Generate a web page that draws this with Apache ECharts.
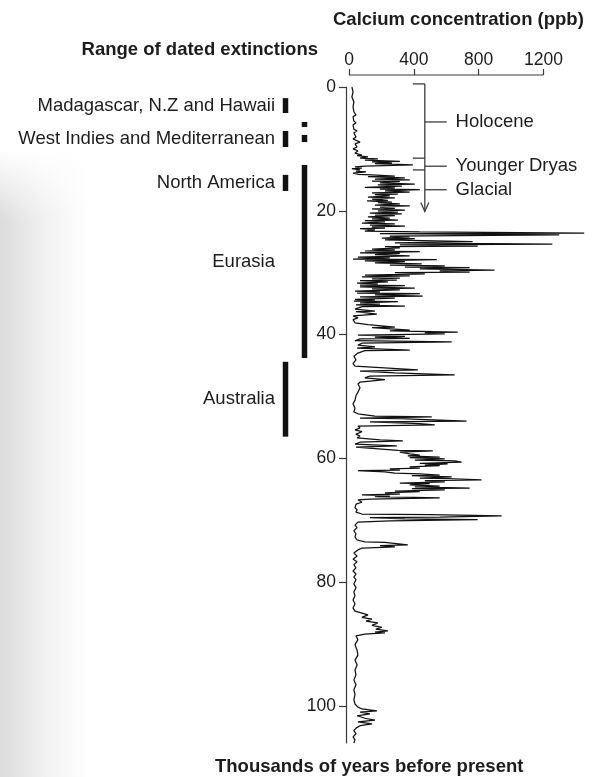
<!DOCTYPE html>
<html>
<head>
<meta charset="utf-8">
<script src="https://cdn.jsdelivr.net/npm/echarts@6/dist/echarts.min.js"></script>
<style>
html,body{margin:0;padding:0;background:#fff;}
#chart{width:592px;height:777px;}
</style>
</head>
<body>
<div id="chart"></div>
<script>
// ---- Data ----
const ages = [0,0.8,1.6,2.4,3.2,4.0,4.5,4.8,5.5,5.8,6.1,6.8,7.1,7.4,8.1,8.4,8.9,9.2,9.7,10.0,10.3,10.7,11.0,11.1,11.3,11.5,11.6,11.8,12.0,12.1,12.3,12.4,12.6,12.8,12.9,13.1,13.2,13.4,13.6,13.7,13.9,14.1,14.2,14.4,14.5,14.7,14.9,15.0,15.2,15.3,15.5,15.7,15.8,16.0,16.2,16.3,16.5,16.6,16.8,17.0,17.1,17.3,17.4,17.6,17.8,17.9,18.1,18.3,18.4,18.6,18.7,18.9,19.1,19.2,19.4,19.6,19.7,19.9,20.0,20.2,20.4,20.5,20.7,20.8,21.0,21.2,21.3,21.5,21.6,21.8,22.0,22.1,22.3,22.5,22.6,22.8,22.9,23.1,23.3,23.4,23.6,23.7,23.9,24.1,24.2,24.4,24.5,24.7,25.0,25.2,25.4,25.5,25.7,25.8,26.0,26.2,26.3,26.5,26.6,26.8,26.9,27.1,27.3,27.5,27.6,27.8,27.9,28.1,28.2,28.4,28.6,28.8,28.9,29.1,29.2,29.4,29.6,29.7,29.9,30.0,30.2,30.4,30.5,30.7,30.9,31.0,31.2,31.3,31.5,31.7,31.8,32.0,32.1,32.3,32.5,32.6,32.8,33.0,33.1,33.3,33.4,33.6,33.8,33.9,34.1,34.3,34.4,34.6,34.7,34.9,35.1,35.2,35.4,35.5,35.9,36.2,36.3,36.7,37.0,37.3,37.6,38.1,38.4,38.8,38.9,39.3,39.4,39.6,39.7,39.9,40.1,40.3,40.4,40.6,40.7,41.0,41.2,41.4,41.7,42.0,42.2,42.5,42.6,43.0,43.5,44.1,44.7,45.1,45.4,45.7,45.9,46.2,46.5,46.7,47.0,47.3,47.7,48.0,48.6,49.3,49.9,50.6,51.2,51.9,52.5,52.8,53.2,53.3,53.5,53.6,54.0,54.1,54.4,54.6,54.8,55.1,55.4,55.7,56.1,56.4,56.7,57.0,57.2,57.4,57.7,58.0,58.2,58.5,58.7,58.8,59.0,59.3,59.5,59.6,59.8,59.9,60.1,60.3,60.4,60.6,60.8,60.9,61.1,61.2,61.4,61.6,61.7,61.9,62.0,62.2,62.4,62.5,62.7,62.8,63.0,63.2,63.3,63.5,63.6,63.8,64.0,64.1,64.3,64.5,64.6,64.8,64.9,65.1,65.3,65.4,65.6,65.8,65.9,66.1,66.2,66.4,66.6,66.7,67.1,67.4,67.7,68.0,68.3,68.7,69.0,69.1,69.3,69.5,69.6,69.8,69.9,70.1,70.3,70.8,71.2,71.7,72.2,72.7,73.2,73.5,73.6,74.0,74.1,74.3,74.5,74.8,75.3,75.8,76.3,76.7,77.2,77.7,78.2,78.7,79.2,79.6,80.3,80.9,81.6,82.2,82.9,83.5,84.2,84.7,85.0,85.3,85.7,86.0,86.3,86.6,87.0,87.3,87.6,87.9,88.1,88.2,88.4,88.7,89.3,90.1,91.0,91.8,92.6,93.4,94.2,95.0,95.8,96.6,97.4,98.2,99.0,99.7,100.2,100.5,100.8,101.0,101.3,101.6,102.0,102.3,102.6,102.9,103.2,103.6,104.0,104.5,105.0,105.5,106.0];
const calcium = [18,25,18,30,25,30,43,25,30,43,25,30,50,30,43,25,68,37,50,25,55,37,80,50,117,68,178,98,314,142,265,160,394,98,37,80,18,68,43,105,25,55,142,283,117,345,160,375,142,314,191,406,178,326,98,283,191,437,222,375,142,302,160,252,117,283,142,240,111,265,178,314,160,375,191,283,142,345,178,302,129,326,160,283,117,252,142,302,98,222,80,283,129,345,142,222,68,160,98,437,1452,191,1298,252,375,203,406,222,763,283,1255,314,794,222,314,142,283,98,437,68,314,160,375,55,252,25,542,98,345,160,449,252,591,345,745,437,898,560,745,283,468,98,375,80,314,142,295,68,240,50,178,68,345,68,406,142,314,37,191,50,437,160,455,68,283,37,160,30,302,68,191,43,345,80,37,160,43,172,25,55,25,37,117,283,142,375,252,671,468,591,55,345,160,375,68,37,634,80,55,160,50,375,98,55,30,43,25,37,25,425,68,283,652,129,98,222,68,55,68,55,43,37,25,37,30,55,160,511,68,314,726,129,437,529,55,68,37,80,43,68,50,191,332,68,37,295,43,55,302,517,314,375,437,363,560,375,591,406,652,695,437,609,468,560,375,437,252,314,55,222,283,437,560,388,634,437,609,818,468,591,314,498,375,560,406,745,388,591,283,437,222,314,80,252,160,560,129,55,80,43,55,37,50,43,80,498,942,560,129,345,794,252,55,37,50,30,43,37,50,98,222,363,191,283,80,55,30,50,25,50,30,43,25,43,30,43,30,43,30,37,25,37,25,37,80,117,80,142,105,178,142,203,166,240,160,222,98,43,55,37,50,55,37,50,37,43,30,43,30,37,30,37,55,80,172,68,129,50,98,160,55,142,68,43,30,43,25,37,30];

const calciumTicks = [0, 400, 800, 1200];
const ageTicks = [0, 20, 40, 60, 80, 100];

// extinction ranges (thousands of years before present)
const extinctionRegions = ["Madagascar, N.Z and Hawaii", "West Indies and Mediterranean", "North America", "Eurasia", "Australia", "", ""];
const extinctionStart = [1.8, 7.1, 14.2, 12.6, 44.4, 5.65, 7.75];
const extinctionEnd   = [4.2, 9.7, 16.8, 43.8, 56.5, 6.45, 8.9];
const extinctionColumn = [0, 0, 0, 1, 0, 1, 1];

// climate periods
const periodNames = ["Holocene", "Younger Dryas", "Glacial"];
const periodLabelAges = [5.65, 12.8, 16.6];
const periodBoundaries = [11.5, 13.4];
const bracketTopAge = -0.5;
const arrowEndAge = 20.1;

// ---- Chart ----
const FONT = "Liberation Sans";
const TXT = "#1c1c1c";
const AX = '#3a3a3a';
const chart = echarts.init(document.getElementById('chart'), null, {renderer: 'canvas'});

const lineData = ages.map((a, i) => [calcium[i], a]);
const barData = extinctionStart.map((s, i) => [extinctionColumn[i], s, extinctionEnd[i], i]);

const colX = [285.5, 304.5];
const xMaxData = 1500; // room for peaks beyond the last tick

chart.setOption({
  animation: false,
  backgroundColor: '#ffffff',
  grid: [
    {left: 349, top: 87, width: 195 * xMaxData / 1200, height: 656},
    {left: 0, top: 87, width: 340, height: 656}
  ],
  xAxis: [
    {
      gridIndex: 0, type: 'value', position: 'top', offset: 12,
      min: 0, max: xMaxData, interval: 400,
      axisLine: {show: false, onZero: false},
      axisTick: {show: true, length: 6, customValues: calciumTicks, lineStyle: {color: AX, width: 1.2}},
      axisLabel: {margin: 6, customValues: calciumTicks, formatter: v => String(v), color: TXT, fontFamily: FONT, fontSize: 17.5},
      splitLine: {show: false}
    },
    {gridIndex: 1, type: 'value', min: 0, max: 340, show: false}
  ],
  yAxis: [
    {
      gridIndex: 0, type: 'value', inverse: true, min: 0, max: 106, interval: 20,
      position: 'left', offset: 3,
      axisLine: {show: true, onZero: false, lineStyle: {color: AX, width: 1.2}},
      axisTick: {show: true, length: 7, customValues: ageTicks, lineStyle: {color: AX, width: 1.2}},
      axisLabel: {margin: 10, customValues: ageTicks, color: TXT, fontFamily: FONT, fontSize: 17.5},
      splitLine: {show: false}
    },
    {gridIndex: 1, type: 'value', inverse: true, min: 0, max: 106, show: false}
  ],
  graphic: [
    {type: 'rect', left: 0, top: 150, z: -10, shape: {width: 90, height: 627},
      style: {fill: new echarts.graphic.LinearGradient(0, 0, 1, 0, [{offset: 0, color: '#dcdcdc'}, {offset: 0.5, color: '#f1f1f1'}, {offset: 1, color: '#ffffff'}])}},
    {type: 'rect', left: 0, top: 150, z: -9, shape: {width: 90, height: 70},
      style: {fill: new echarts.graphic.LinearGradient(0, 0, 0, 1, [{offset: 0, color: 'rgba(255,255,255,1)'}, {offset: 1, color: 'rgba(255,255,255,0)'}])}},
    {type: 'text', left: 333, top: 10, style: {text: 'Calcium concentration (ppb)', fill: TXT, font: 'bold 18.5px "Liberation Sans"'}},
    {type: 'text', right: 274, top: 40, style: {text: 'Range of dated extinctions', fill: TXT, font: 'bold 18.5px "Liberation Sans"'}},
    {type: 'text', left: 215, top: 757, style: {text: 'Thousands of years before present', fill: TXT, font: 'bold 18.5px "Liberation Sans"'}}
  ],
  series: [
    {
      type: 'line', xAxisIndex: 0, yAxisIndex: 0,
      data: lineData, showSymbol: false, clip: false,
      lineStyle: {color: '#111', width: 1.25},
      z: 3
    },
    {
      type: 'custom', xAxisIndex: 0, yAxisIndex: 0, clip: false,
      data: [[0, 0]],
      renderItem: function (params, api) {
        const xv = api.coord([468, 0])[0];
        const xl = api.coord([394, 0])[0];
        const xr = api.coord([603, 0])[0];
        const xt = api.coord([658, 0])[0];
        const Y = a => api.coord([0, a])[1];
        const ls = {stroke: '#3c3c3c', lineWidth: 1.3};
        const ch = [];
        // top calcium axis line from first to last tick
        const ax0 = api.coord([calciumTicks[0], 0])[0];
        const ax1 = api.coord([calciumTicks[calciumTicks.length - 1], 0])[0];
        const ay = Y(0) - 12;
        ch.push({type: 'line', shape: {x1: ax0, y1: ay, x2: ax1, y2: ay}, style: {stroke: AX, lineWidth: 1.2}});
        ch.push({type: 'line', shape: {x1: xv, y1: Y(bracketTopAge), x2: xv, y2: Y(arrowEndAge)}, style: ls});
        ch.push({type: 'line', shape: {x1: xl, y1: Y(bracketTopAge), x2: xv, y2: Y(bracketTopAge)}, style: ls});
        periodBoundaries.forEach(b => ch.push({type: 'line', shape: {x1: xl, y1: Y(b), x2: xv, y2: Y(b)}, style: ls}));
        periodLabelAges.forEach((a, i) => {
          ch.push({type: 'line', shape: {x1: xv, y1: Y(a), x2: xr, y2: Y(a)}, style: ls});
          ch.push({type: 'text', x: xt, y: Y(a), style: {text: periodNames[i], fill: TXT, font: '18.5px "Liberation Sans"', textVerticalAlign: 'middle', textAlign: 'left'}});
        });
        const ye = Y(arrowEndAge);
        ch.push({type: 'polyline', shape: {points: [[xv - 4, ye - 9], [xv, ye], [xv + 4, ye - 9]]}, style: {stroke: '#3c3c3c', lineWidth: 1.3, fill: null}});
        return {type: 'group', children: ch};
      },
      z: 4
    },
    {
      type: 'custom', xAxisIndex: 1, yAxisIndex: 1, clip: false,
      data: barData,
      renderItem: function (params, api) {
        const col = api.value(0);
        const idx = api.value(3);
        const cx = colX[col];
        const y1 = api.coord([0, api.value(1)])[1];
        const y2 = api.coord([0, api.value(2)])[1];
        const w = 5.5;
        const children = [{type: 'rect', shape: {x: cx - w / 2, y: y1, width: w, height: y2 - y1}, style: {fill: '#111'}}];
        const label = extinctionRegions[idx];
        if (label) {
          children.push({type: 'text', x: 275, y: (y1 + y2) / 2, style: {text: label, fill: TXT, font: '18.5px "Liberation Sans"', textAlign: 'right', textVerticalAlign: 'middle'}});
        }
        return {type: 'group', children: children};
      }
    }
  ]
});
</script>
</body>
</html>
